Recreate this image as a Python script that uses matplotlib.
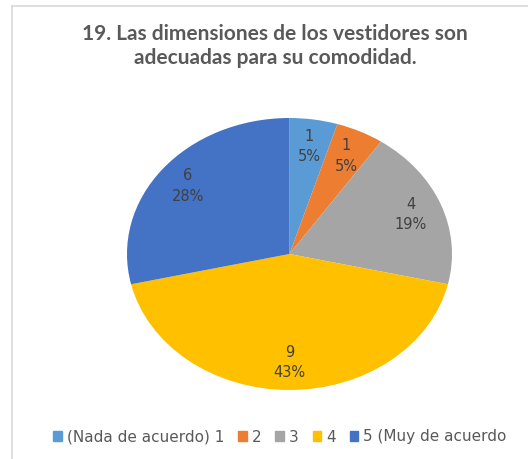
import matplotlib
matplotlib.use("Agg")
import matplotlib.pyplot as plt
from matplotlib.lines import Line2D

title = "19. Las dimensiones de los vestidores son\nadecuadas para su comodidad."
categories = ["(Nada de acuerdo) 1", "2", "3", "4", "5 (Muy de acuerdo"]
counts = [1, 1, 4, 9, 6]
pct_labels = ["5%", "5%", "19%", "43%", "28%"]
colors = ["#5B9BD5", "#ED7D31", "#A5A5A5", "#FFC000", "#4472C4"]

W, H = 528, 459
fig = plt.figure(figsize=(W / 100, H / 100), dpi=100)

# chart frame (light grey border, cut off at right/bottom)
fig.add_artist(Line2D([12 / W, 12 / W], [0, 1 - 6 / H], color="#D9D9D9", lw=1.2))
fig.add_artist(Line2D([12 / W, 1], [1 - 6 / H, 1 - 6 / H], color="#D9D9D9", lw=1.2))

fig.text(275 / W, 1 - 46 / H, title, ha="center", va="center", fontsize=15,
         fontweight="bold", color="#595959", family="Lato", linespacing=1.3)

ax = fig.add_axes([127 / W, 1 - 390 / H, 325 / W, 272 / H])
labels_iter = iter(range(len(counts)))


def fmt(p):
    i = next(labels_iter)
    return f"{counts[i]}\n{pct_labels[i]}"


wedges, texts, autotexts = ax.pie(counts, colors=colors, startangle=90, counterclock=False,
                                  autopct=fmt, pctdistance=0.8,
                                  wedgeprops=dict(linewidth=0))
for t in autotexts:
    t.set_color("#404040")
    t.set_fontsize(10.5)
    t.set_linespacing(1.45)
ax.set_aspect("auto")
ax.set_xlim(-1, 1)
ax.set_ylim(-1, 1)

handles = [plt.Rectangle((0, 0), 1, 1, color=c) for c in colors]
fig.legend(handles, categories, loc="center", bbox_to_anchor=(280 / W, 1 - 437 / H), ncol=5,
           frameon=False, fontsize=11, handlelength=0.55, handleheight=0.55,
           handletextpad=0.35, columnspacing=0.9, labelcolor="#595959")

fig.savefig("out.png", dpi=100, facecolor="white")
